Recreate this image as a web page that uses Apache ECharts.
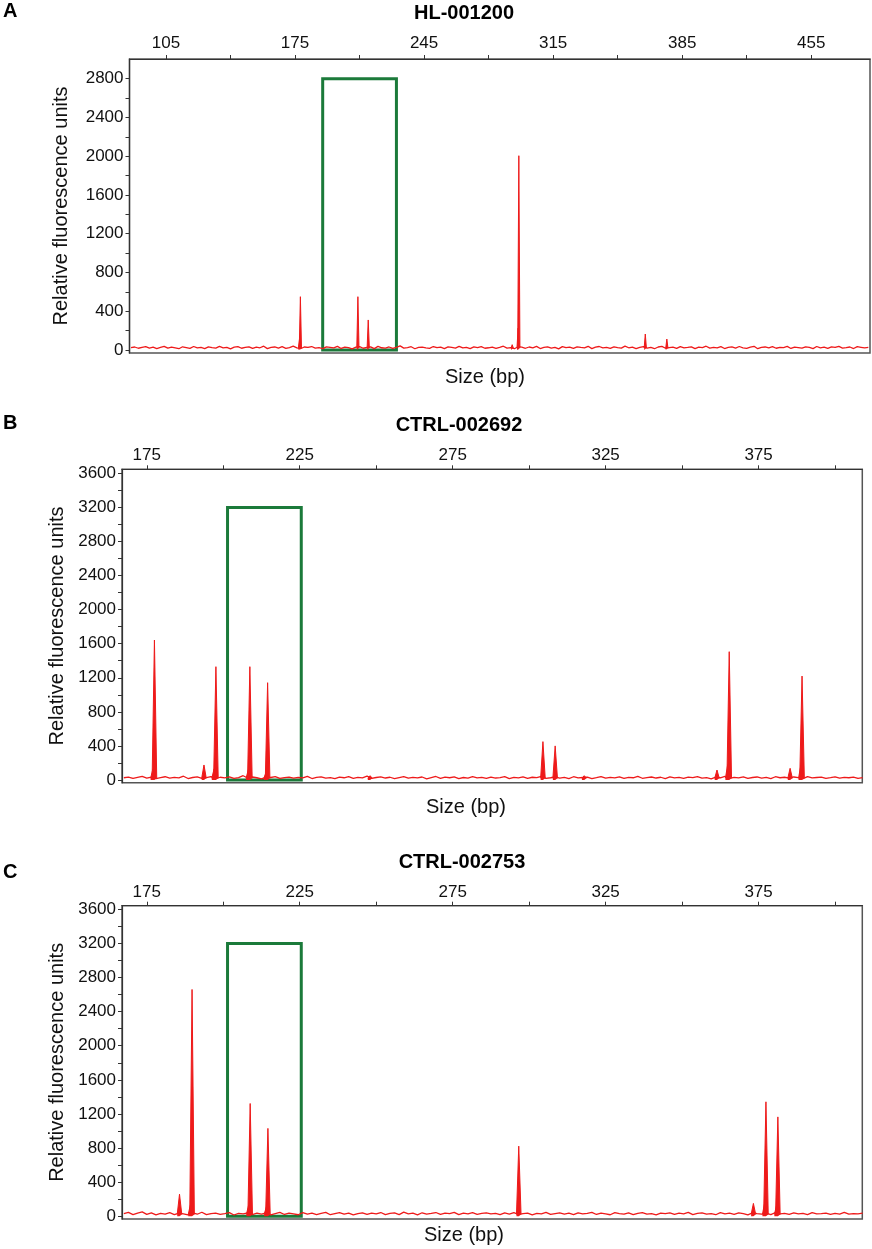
<!DOCTYPE html>
<html>
<head>
<meta charset="utf-8">
<title>Fragment analysis traces</title>
<script src="https://cdn.jsdelivr.net/npm/echarts@6/dist/echarts.min.js"></script>
<style>
  html, body { margin: 0; padding: 0; background: #fff; }
  #chart { width: 872px; height: 1249px; }
</style>
</head>
<body>
<div id="chart"></div>
<script>
// ---- data -------------------------------------------------------------

// panel A : HL-001200
const titleA = "HL-001200";
const xLabelsA = [105, 175, 245, 315, 385, 455];
const xTicksA = [105, 140, 175, 210, 245, 280, 315, 350, 385, 420, 455];
const yLabelsA = [0, 400, 800, 1200, 1600, 2000, 2400, 2800];
const yTicksA = [0, 200, 400, 600, 800, 1000, 1200, 1400, 1600, 1800, 2000, 2200, 2400, 2600, 2800];
const peakSizeA = [177.4, 177.9, 209.1, 214.7, 292.8, 296.0, 296.4, 365.0, 376.7];
const peakRfuA = [110, 550, 550, 310, 55, 225, 2005, 165, 113];
const noiseStartA = 86;
const noiseStepA = 2;
const noiseA = [
  24, 31, 18, 27, 35, 20, 29, 14, 26, 38, 19, 30, 22, 13, 33, 25, 17, 36, 21, 28,
  15, 32, 24, 19, 37, 22, 28, 12, 30, 35, 18, 26, 33, 16, 29, 23, 39, 14, 27, 31,
  20, 34, 17, 25, 40, 22, 13, 31, 27, 36, 19, 24, 15, 33, 28, 21, 38, 16, 30, 24,
  12, 29, 35, 18, 26, 32, 14, 37, 23, 20, 31, 16, 28, 42, 19, 25, 34, 13, 27, 30,
  22, 17, 36, 24, 29, 15, 33, 26, 19, 38, 21, 28, 14, 32, 25, 35, 18, 23, 30, 16,
  27, 39, 20, 25, 13, 34, 29, 18, 31, 23, 37, 15, 26, 33, 19, 28, 12, 35, 24, 30,
  17, 32, 26, 21, 38, 14, 29, 36, 22, 27, 16, 33, 25, 19, 40, 23, 30, 15, 28, 34,
  20, 26, 13, 31, 37, 18, 24, 29, 16, 35, 22, 27, 33, 14, 30, 25, 39, 19, 28, 21,
  34, 15, 27, 32, 20, 36, 23, 17, 29, 38, 13, 26, 31, 22, 35, 18, 28, 24, 37, 16,
  30, 25, 19, 33, 27, 14, 36, 22, 29, 17, 32, 26, 38, 20, 24, 31, 15, 34, 28, 21,
  26
];
const boxA = [190, 230, 2800]; // from bp, to bp, top RFU

// panel B : CTRL-002692
const titleB = "CTRL-002692";
const xLabelsB = [175, 225, 275, 325, 375];
const xTicksB = [175, 200, 225, 250, 275, 300, 325, 350, 375, 400];
const yLabelsB = [0, 400, 800, 1200, 1600, 2000, 2400, 2800, 3200, 3600];
const yTicksB = [0, 200, 400, 600, 800, 1000, 1200, 1400, 1600, 1800, 2000, 2200, 2400, 2600, 2800, 3000, 3200, 3400, 3600];
const peakSizeB = [177.0, 177.5, 193.7, 197.0, 197.6, 208.2, 208.7, 214.0, 214.5, 248.0, 304.5, 308.5, 318.0, 361.4, 364.9, 365.4, 385.3, 388.8, 389.2];
const peakRfuB = [130, 1643, 176, 130, 1330, 120, 1330, 90, 1142, 50, 450, 400, 50, 117, 180, 1506, 137, 170, 1220];
const noiseStartB = 167.5;
const noiseStepB = 1.5;
const noiseB = [
  26, 34, 19, 30, 41, 22, 33, 15, 28, 38, 21, 31, 24, 44, 17, 29, 36, 20, 27, 40,
  16, 32, 25, 37, 19, 28, 50, 23, 35, 26, 14, 33, 29, 39, 18, 27, 34, 21, 31, 24,
  42, 17, 30, 36, 22, 28, 15, 34, 26, 39, 20, 31, 25, 45, 18, 29, 37, 23, 32, 16,
  27, 38, 21, 30, 24, 35, 14, 28, 41, 19, 33, 26, 36, 17, 29, 22, 40, 25, 31, 18,
  34, 23, 28, 39, 16, 30, 25, 37, 20, 32, 27, 43, 19, 26, 35, 22, 30, 17, 38, 24,
  29, 33, 15, 27, 40, 21, 31, 24, 36, 18, 30, 26, 42, 20, 28, 35, 23, 32, 16, 37,
  25, 30, 19, 34, 27, 39, 22, 28, 14, 33, 26, 41, 20, 31, 24, 36, 18, 29, 35, 22,
  30, 17, 38, 26, 32, 21, 35, 28, 15, 40, 24, 29, 33, 19, 27, 37, 22, 31, 26, 34,
  20, 28
];
const boxB = [201.4, 225.5, 3200];

// panel C : CTRL-002753
const titleC = "CTRL-002753";
const xLabelsC = [175, 225, 275, 325, 375];
const xTicksC = [175, 200, 225, 250, 275, 300, 325, 350, 375, 400];
const yLabelsC = [0, 400, 800, 1200, 1600, 2000, 2400, 2800, 3200, 3600];
const yTicksC = [0, 200, 400, 600, 800, 1000, 1200, 1400, 1600, 1800, 2000, 2200, 2400, 2600, 2800, 3000, 3200, 3400, 3600];
const peakSizeC = [185.7, 189.3, 189.8, 208.3, 208.8, 214.1, 214.6, 296.6, 373.3, 377.0, 377.4, 380.9, 381.3];
const peakRfuC = [258, 140, 2660, 130, 1322, 110, 1030, 822, 150, 160, 1342, 130, 1165];
const noiseStartC = 167.5;
const noiseStepC = 1.5;
const noiseC = [
  30, 44, 18, 36, 50, 21, 38, 16, 33, 25, 41, 19, 35, 28, 15, 39, 23, 46, 18, 31,
  37, 20, 29, 42, 14, 34, 26, 40, 19, 35, 24, 39, 16, 31, 44, 20, 36, 28, 17, 41,
  25, 37, 19, 33, 45, 17, 31, 41, 23, 36, 15, 29, 40, 20, 35, 26, 43, 18, 32, 38,
  19, 47, 28, 35, 16, 40, 24, 32, 43, 21, 37, 29, 45, 19, 35, 27, 41, 22, 32, 39,
  27, 34, 18, 38, 25, 42, 20, 31, 36, 16, 33, 28, 44, 21, 30, 39, 24, 35, 18, 40,
  26, 32, 45, 20, 37, 28, 17, 41, 30, 23, 38, 19, 34, 43, 25, 31, 16, 36, 29, 40,
  22, 35, 27, 44, 18, 33, 39, 24, 30, 17, 42, 26, 35, 21, 38, 29, 15, 40, 31, 24,
  36, 19, 43, 28, 32, 22, 39, 26, 34, 18, 41, 27, 30, 37, 20, 33, 25, 44, 23, 31,
  28, 35
];
const boxC = [201.4, 225.5, 3200];

// ---- layout / style ----------------------------------------------------

const FONT = '"Liberation Sans", Arial, Helvetica, sans-serif';
const RED = "#ee1a1a";
const GREEN = "#1b7a3a";
const AXIS = "#333333";

const panels = [
  {
    letter: "A", title: titleA, letterY: 11, titleX: 464, titleY: 13, sizeX: 485, sizeY: 377,
    grid: { left: 129.5, top: 59, width: 740.5, height: 294 },
    xRange: [85.2, 486.9], yRange: [-31, 3003], nameGap: 58, labelMargin: 7,
    xLabels: xLabelsA, xTicks: xTicksA, yLabels: yLabelsA, yTicks: yTicksA,
    peakSize: peakSizeA, peakRfu: peakRfuA, halfWidth: 0.6,
    noise: noiseA, noiseStart: noiseStartA, noiseStep: noiseStepA, box: boxA,
  },
  {
    letter: "B", title: titleB, letterY: 423, titleX: 459, titleY: 425, sizeX: 466, sizeY: 807,
    grid: { left: 122, top: 469.3, width: 740.3, height: 313.4 },
    xRange: [166.9, 408.9], yRange: [-32, 3647], nameGap: 52, labelMargin: 5,
    xLabels: xLabelsB, xTicks: xTicksB, yLabels: yLabelsB, yTicks: yTicksB,
    peakSize: peakSizeB, peakRfu: peakRfuB, halfWidth: 0.75,
    noise: noiseB, noiseStart: noiseStartB, noiseStep: noiseStepB, box: boxB,
  },
  {
    letter: "C", title: titleC, letterY: 872, titleX: 462, titleY: 862, sizeX: 464, sizeY: 1235,
    grid: { left: 122, top: 905.7, width: 740.3, height: 313.3 },
    xRange: [166.9, 408.9], yRange: [-33, 3643], nameGap: 52, labelMargin: 5,
    xLabels: xLabelsC, xTicks: xTicksC, yLabels: yLabelsC, yTicks: yTicksC,
    peakSize: peakSizeC, peakRfu: peakRfuC, halfWidth: 0.75,
    noise: noiseC, noiseStart: noiseStartC, noiseStep: noiseStepC, box: boxC,
  },
];

// baseline trace: typed values on a regular size grid
function noiseTrace(p) {
  return p.noise.map((v, i) => [p.noiseStart + i * p.noiseStep, v]);
}

// each peak drawn as a narrow spike from the baseline to its height
function peakTrace(p) {
  const pts = [];
  p.peakSize.forEach((s, i) => {
    pts.push([s - p.halfWidth, 20], [s, p.peakRfu[i]], [s + p.halfWidth, 20], null);
  });
  return pts;
}

const grids = [];
const xAxes = [];
const yAxes = [];
const series = [];
const graphics = [];

panels.forEach((p, i) => {
  grids.push(Object.assign({ show: true, borderColor: "#555", borderWidth: 1.5, backgroundColor: "transparent" }, p.grid));

  xAxes.push({
    type: "value",
    gridIndex: i,
    position: "top",
    min: p.xRange[0],
    max: p.xRange[1],
    axisLine: { show: true, onZero: false, lineStyle: { color: AXIS, width: 1.2 } },
    axisTick: { show: true, length: 4, customValues: p.xTicks, lineStyle: { color: AXIS } },
    axisLabel: { customValues: p.xLabels, margin: p.labelMargin, fontSize: 17, color: "#111", fontFamily: FONT, formatter: (v) => String(v) },
    splitLine: { show: false },
  });

  yAxes.push({
    type: "value",
    gridIndex: i,
    min: p.yRange[0],
    max: p.yRange[1],
    name: "Relative fluorescence units",
    nameLocation: "middle",
    nameGap: p.nameGap,
    nameTextStyle: { fontSize: 20, color: "#111", fontFamily: FONT },
    axisLine: { show: true, onZero: false, lineStyle: { color: AXIS, width: 1.2 } },
    axisTick: { show: true, length: 4, customValues: p.yTicks, lineStyle: { color: AXIS } },
    axisLabel: { customValues: p.yLabels, margin: 6, fontSize: 17, color: "#111", fontFamily: FONT, formatter: (v) => String(v) },
    splitLine: { show: false },
  });

  series.push({
    type: "line",
    xAxisIndex: i,
    yAxisIndex: i,
    data: noiseTrace(p),
    showSymbol: false,
    silent: true,
    lineStyle: { color: RED, width: 1.3 },
    z: 2,
  });

  series.push({
    type: "line",
    xAxisIndex: i,
    yAxisIndex: i,
    data: peakTrace(p),
    showSymbol: false,
    connectNulls: false,
    silent: true,
    lineStyle: { color: RED, width: 1 },
    areaStyle: { color: RED, opacity: 1 },
    z: 3,
    markArea: {
      silent: true,
      itemStyle: { color: "rgba(0,0,0,0)", borderColor: GREEN, borderWidth: 3 },
      data: [[{ coord: [p.box[0], 0] }, { coord: [p.box[1], p.box[2]] }]],
    },
  });

  graphics.push(
    { type: "text", x: 3, y: p.letterY, style: { text: p.letter, font: "bold 20px " + FONT, fill: "#000", align: "left", verticalAlign: "middle" } },
    { type: "text", x: p.titleX, y: p.titleY, style: { text: p.title, font: "bold 20px " + FONT, fill: "#000", align: "center", verticalAlign: "middle" } },
    { type: "text", x: p.sizeX, y: p.sizeY, style: { text: "Size (bp)", font: "20px " + FONT, fill: "#111", align: "center", verticalAlign: "middle" } }
  );
});

const chart = echarts.init(document.getElementById("chart"), null, { renderer: "canvas" });
chart.setOption({
  animation: false,
  backgroundColor: "#fff",
  grid: grids,
  xAxis: xAxes,
  yAxis: yAxes,
  series: series,
  graphic: graphics,
});
</script>
</body>
</html>
